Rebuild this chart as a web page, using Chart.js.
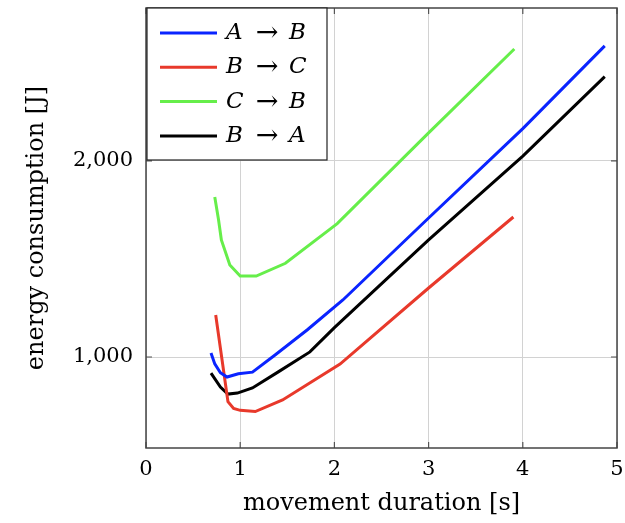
<!DOCTYPE html>
<html>
<head>
<meta charset="utf-8">
<script src="https://cdn.jsdelivr.net/npm/chart.js@4.4.0/dist/chart.umd.min.js"></script>
<style>
html, body { margin: 0; padding: 0; background: #fff; }
#wrap { width: 625px; height: 523px; }
</style>
</head>
<body>
<div id="wrap"><canvas id="myChart"></canvas></div>
<script>
// movement duration [s] / energy consumption [J]
const durAB = [0.69, 0.73, 0.79, 0.86, 0.98, 1.13, 1.37, 1.71, 2.09, 3.0, 4.0, 4.87];
const energyAB = [1020, 965, 920, 898, 915, 923, 1010, 1138, 1291, 1709, 2165, 2587];

const durBC = [0.74, 0.87, 0.93, 1.0, 1.16, 1.45, 2.06, 3.0, 3.9];
const energyBC = [1214, 772, 738, 728, 722, 781, 964, 1352, 1714];

const durCB = [0.73, 0.77, 0.80, 0.89, 1.0, 1.17, 1.48, 2.03, 3.0, 3.91];
const energyCB = [1816, 1700, 1597, 1469, 1413, 1413, 1478, 1680, 2143, 2571];

const durBA = [0.69, 0.79, 0.87, 0.97, 1.13, 1.40, 1.74, 2.0, 3.0, 4.0, 4.87];
const energyBA = [918, 847, 811, 816, 842, 923, 1026, 1150, 1597, 2025, 2430];

const seriesLabels = ['A → B', 'B → C', 'C → B', 'B → A'];
const seriesColors = ['#0a24ff', '#e8392b', '#66ee4a', '#000000'];
const yTickValues = [1000, 2000];

const serif = '"DejaVu Serif", serif';

function toPoints(xs, ys) {
    return xs.map((x, i) => ({x: x, y: ys[i]}));
}

// frame with inward tick marks + legend box in the top-left corner
const framePlugin = {
    id: 'frame',
    afterDatasetsDraw(chart) {
        const ctx = chart.ctx;
        const a = chart.chartArea;
        const xs = chart.scales.x, ys = chart.scales.y;
        ctx.save();
        ctx.strokeStyle = '#555';
        ctx.lineWidth = 1.2;
        ctx.beginPath();
        xs.ticks.forEach(t => {
            const px = xs.getPixelForValue(t.value);
            ctx.moveTo(px, a.bottom); ctx.lineTo(px, a.bottom - 6);
            ctx.moveTo(px, a.top); ctx.lineTo(px, a.top + 6);
        });
        ys.ticks.forEach(t => {
            const py = ys.getPixelForValue(t.value);
            ctx.moveTo(a.left, py); ctx.lineTo(a.left + 6, py);
            ctx.moveTo(a.right, py); ctx.lineTo(a.right - 6, py);
        });
        ctx.stroke();

        ctx.strokeStyle = '#444';
        ctx.lineWidth = 1.5;
        ctx.strokeRect(a.left, a.top, a.right - a.left, a.bottom - a.top);

        const lx = a.left + 1, ly = a.top, lw = 180, lh = 152;
        ctx.fillStyle = '#fff';
        ctx.fillRect(lx, ly, lw, lh);
        ctx.strokeStyle = '#222';
        ctx.lineWidth = 1.2;
        ctx.strokeRect(lx, ly, lw, lh);

        chart.data.datasets.forEach((ds, i) => {
            const y = ly + 25 + i * 34.3;
            ctx.strokeStyle = ds.borderColor;
            ctx.lineWidth = 3;
            ctx.beginPath();
            ctx.moveTo(lx + 13, y);
            ctx.lineTo(lx + 70, y);
            ctx.stroke();

            const parts = ds.label.split(' → ');
            ctx.fillStyle = '#000';
            ctx.textBaseline = 'middle';
            ctx.textAlign = 'left';
            ctx.font = 'italic 23px ' + serif;
            ctx.fillText(parts[0], lx + 79, y);
            ctx.fillText(parts[1], lx + 142, y);
            ctx.font = '27px ' + serif;
            ctx.textAlign = 'center';
            ctx.fillText('→', lx + 120, y + 1);
        });
        ctx.restore();
    }
};

const datasets = [
    [durAB, energyAB],
    [durBC, energyBC],
    [durCB, energyCB],
    [durBA, energyBA]
].map((s, i) => ({
    label: seriesLabels[i],
    data: toPoints(s[0], s[1]),
    borderColor: seriesColors[i],
    backgroundColor: seriesColors[i],
    borderWidth: 3,
    pointRadius: 0,
    tension: 0,
    fill: false
}));

const ctx = document.getElementById('myChart').getContext('2d');
new Chart(ctx, {
    type: 'line',
    data: {datasets: datasets},
    options: {
        responsive: true,
        maintainAspectRatio: false,
        animation: false,
        layout: {padding: {top: 8, right: 8, left: 0, bottom: 0}},
        plugins: {legend: {display: false}, tooltip: {enabled: false}},
        scales: {
            x: {
                type: 'linear',
                min: 0,
                max: 5,
                ticks: {stepSize: 1, color: '#000', padding: 9, font: {family: serif, size: 21}},
                grid: {color: '#d2d2d2', lineWidth: 1, drawTicks: false},
                border: {display: false},
                title: {display: true, text: 'movement duration [s]', color: '#000',
                        font: {family: serif, size: 24}, padding: {top: 0, bottom: 5}},
                afterFit: s => { s.height = 75; s.paddingLeft = 0; s.paddingRight = 0; }
            },
            y: {
                type: 'linear',
                min: 536,
                max: 2780,
                afterBuildTicks: s => { s.ticks = yTickValues.map(v => ({value: v})); },
                ticks: {color: '#000', padding: 13, font: {family: serif, size: 21},
                        callback: v => v.toLocaleString('en-US')},
                grid: {color: '#d2d2d2', lineWidth: 1, drawTicks: false},
                border: {display: false},
                title: {display: true, text: 'energy consumption [J]', color: '#000',
                        font: {family: serif, size: 24}, padding: {top: 22, bottom: 0}},
                afterFit: s => { s.width = 146; s.paddingTop = 0; s.paddingBottom = 0; }
            }
        }
    },
    plugins: [framePlugin]
});
</script>
</body>
</html>
